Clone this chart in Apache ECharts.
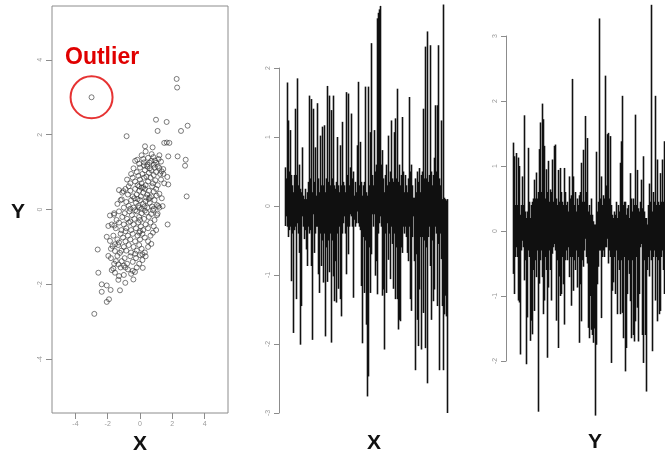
<!DOCTYPE html>
<html>
<head>
<meta charset="utf-8">
<script src="https://cdn.jsdelivr.net/npm/echarts@6/dist/echarts.min.js"></script>
<style>
html,body{margin:0;padding:0;background:#fff;}
#chart{width:665px;height:456px;}
</style>
</head>
<body>
<div id="chart"></div>
<script>
// ---- Scatter panel: (X, Y) pairs ----
const scatterPoints = [
[-3.0,3.0],
[2.27,3.49],[2.3,3.26],
[0.99,2.4],[1.65,2.34],[2.95,2.24],[1.09,2.1],[2.54,2.1],[-0.83,1.96],
[0.31,1.69],[0.78,1.66],[1.5,1.78],[1.66,1.79],[1.82,1.78],
[-0.17,1.33],[0.25,1.26],[0.72,1.48],[0.83,1.4],[0.93,1.31],
[1.75,1.42],[2.33,1.42],[2.83,1.33],[2.79,1.17],[2.89,0.35],
[1.2,1.11],[1.34,1.02],[1.44,1.08],[1.1,1.15],[1.69,0.87],[1.75,0.67],
[1.13,0.09],[1.4,0.09],[1.71,-0.4],[1.09,-0.11],[1.03,0.37],
[-2.83,-2.79],[-2.62,-1.07],[-1.96,-1.24],[-2.58,-1.69],[-2.37,-2.0],[-2.06,-2.03],[-2.37,-2.2],
[-1.82,-2.15],[-2.06,-2.47],[-1.92,-2.4],[-1.24,-2.16],[-1.65,-1.58],[-1.55,-1.69],[-1.34,-1.88],
[-0.91,-1.96],[-0.45,-1.64],[-0.41,-1.87],[-1.96,-0.44],[-1.59,-0.43],[-1.86,-0.16],[-1.61,-0.14],
[-1.03,0.49],[-1.13,0.27],[-2.06,-0.73],[-1.86,-0.84],[-1.55,-0.93],[-1.7,-0.98],[-1.55,-1.11],
[-1.4,-1.24],[-1.24,-1.16],[-1.49,-1.38],[-1.13,-1.38],[-1.34,-1.47],[0.17,-1.56],[-0.31,-1.67],
[0.1,1.45],[0.35,1.55],[0.5,1.38],[0.6,1.25],[-0.05,1.22],[0.45,1.2],[0.7,1.3],[1.0,1.25],[1.15,1.35],
[1.3,1.28],[0.2,1.35],[0.85,1.2],[-0.3,1.3],[1.2,1.45],
[-0.4,1.1],[-0.2,1.0],[0.0,1.12],[0.15,0.95],[0.3,1.05],[0.45,1.15],[0.55,0.98],[0.7,1.05],[0.85,0.92],
[1.0,1.0],[1.25,0.95],[-0.55,0.95],[0.25,1.18],[0.6,1.1],[-0.1,0.9],[0.9,1.12],[1.45,0.95],
[-0.8,0.8],[-0.6,0.7],[-0.45,0.85],[-0.3,0.75],[-0.15,0.65],[0.0,0.8],[0.1,0.7],[0.25,0.85],[0.35,0.65],
[0.5,0.75],[0.65,0.85],[0.8,0.7],[0.95,0.78],[1.1,0.65],[1.3,0.8],[-0.05,0.62],[0.4,0.88],[0.2,0.6],
[-0.7,0.62],[1.5,0.7],[0.75,0.62],
[-1.1,0.45],[-0.9,0.55],[-0.75,0.4],[-0.6,0.5],[-0.45,0.35],[-0.3,0.55],[-0.2,0.4],[-0.05,0.5],[0.05,0.35],
[0.2,0.45],[0.3,0.55],[0.45,0.4],[0.55,0.5],[0.7,0.35],[0.85,0.48],[1.0,0.55],[1.2,0.42],[-0.35,0.3],
[0.1,0.58],[0.6,0.32],[-1.3,0.52],[0.38,0.32],[1.35,0.3],
[-1.4,0.15],[-1.2,0.25],[-1.0,0.05],[-0.85,0.2],[-0.7,0.1],[-0.55,0.25],[-0.4,0.05],[-0.25,0.18],[-0.1,0.1],
[0.0,0.25],[0.1,0.02],[0.2,0.15],[0.35,0.22],[0.45,0.05],[0.6,0.18],[0.75,0.08],[0.9,0.25],[1.05,0.12],
[1.2,0.05],[-0.15,0.28],[0.28,0.08],[-0.6,0.02],[0.55,0.28],[0.85,0.02],[-0.05,0.05],
[-1.6,-0.1],[-1.3,-0.05],[-1.1,-0.2],[-0.95,-0.1],[-0.8,-0.25],[-0.65,-0.05],[-0.5,-0.15],[-0.35,-0.25],
[-0.2,-0.05],[-0.05,-0.2],[0.1,-0.1],[0.25,-0.25],[0.4,-0.08],[0.55,-0.2],[0.7,-0.12],[0.9,-0.28],
[1.05,-0.15],[-0.3,-0.02],[0.0,-0.28],[-1.45,-0.28],[0.3,-0.03],[0.8,-0.02],
[-1.75,-0.4],[-1.5,-0.5],[-1.3,-0.35],[-1.15,-0.55],[-1.0,-0.4],[-0.85,-0.5],[-0.7,-0.35],[-0.55,-0.55],
[-0.4,-0.4],[-0.25,-0.5],[-0.1,-0.35],[0.05,-0.45],[0.2,-0.55],[0.35,-0.4],[0.5,-0.5],[0.65,-0.35],
[0.85,-0.45],[-0.9,-0.58],[0.0,-0.58],[-0.6,-0.32],[1.0,-0.55],
[-1.65,-0.7],[-1.4,-0.8],[-1.2,-0.65],[-1.05,-0.75],[-0.9,-0.85],[-0.75,-0.7],[-0.6,-0.8],[-0.45,-0.65],
[-0.3,-0.85],[-0.15,-0.7],[0.0,-0.8],[0.15,-0.65],[0.3,-0.75],[0.5,-0.85],[0.65,-0.7],[-1.3,-0.88],
[-0.05,-0.62],[0.8,-0.62],
[-1.8,-1.05],[-1.35,-0.95],[-1.15,-1.1],[-1.0,-1.0],[-0.85,-1.1],[-0.7,-0.95],[-0.55,-1.15],[-0.4,-1.0],
[-0.2,-1.1],[-0.05,-0.95],[0.1,-1.05],[0.3,-1.15],[0.5,-1.0],[-0.3,-1.18],[0.15,-1.2],[0.7,-0.92],
[-1.8,-1.3],[-1.6,-1.45],[-0.95,-1.3],[-0.8,-1.45],[-0.6,-1.25],[-0.45,-1.4],[-0.25,-1.3],[-0.05,-1.45],
[0.15,-1.35],[0.35,-1.25],[-1.0,-1.5],[0.0,-1.22],
[-1.75,-1.62],[-1.2,-1.55],[-1.0,-1.75],[-0.75,-1.6],[-0.55,-1.72],[-0.2,-1.55],[-1.3,-1.78],[-0.9,-1.55]
];
const outlierPoint = [[-3.0, 3.0]];
const scatterTicks = [-4, -2, 0, 2, 4];

// ---- Middle panel: X values (upper and lower reach of each needle column) ----
const xUp = [
0.56,0.4,1.79,1.24,0.5,1.1,0.45,0.3,0.2,0.45,
1.41,0.45,1.85,0.3,0.6,0.25,0.2,0.85,0.15,0.1,
0.25,0.1,0.2,0.35,1.6,0.4,1.55,0.2,1.41,0.35,
0.85,0.15,1.49,0.4,0.2,1.02,0.3,1.15,0.3,1.17,
0.2,0.4,1.74,0.35,1.6,0.3,1.39,0.4,1.6,0.3,
0.25,0.35,1.0,0.3,0.2,0.88,0.3,1.22,0.35,0.3,
0.2,1.65,0.45,1.63,0.3,0.56,1.34,0.4,0.5,0.15,
0.35,0.2,0.88,1.8,0.3,0.93,0.35,0.15,0.3,0.35,
1.73,0.2,0.15,1.73,0.3,1.07,2.36,0.45,0.3,1.1,
0.5,0.6,2.72,2.8,2.85,2.9,0.6,0.81,0.4,0.2,
0.45,0.6,0.3,1.02,0.35,0.5,1.24,0.4,0.35,1.07,
1.27,0.4,1.7,0.35,0.6,0.3,0.45,1.29,0.5,0.2,
0.45,0.3,0.2,0.4,1.58,0.5,0.6,0.3,0.12,0.12,
0.4,0.2,0.5,0.35,0.55,0.2,0.45,0.5,1.41,0.4,
2.31,0.4,2.53,0.35,0.45,2.33,0.5,0.3,0.45,0.7,
1.46,0.5,1.46,2.33,0.4,0.3,1.24,0.1,2.92,0.12,0.1,0.08,0.1
];
const xDown = [
-0.29,-0.15,-0.3,-0.45,-0.35,-0.3,-1.09,-0.4,-1.84,-0.35,
-0.3,-1.35,-0.25,-0.4,-0.68,-2.01,-1.45,-0.15,-0.3,-0.48,
-0.35,-0.63,-0.87,-0.3,-0.4,-0.35,-0.87,-1.94,-0.12,-0.68,
-0.4,-0.3,-0.3,-0.99,-1.26,-0.4,-0.87,-0.5,-1.11,-0.4,
-1.89,-0.6,-1.1,-0.5,-0.96,-0.4,-1.98,-0.5,-1.02,-1.38,
-0.8,-1.4,-0.4,-1.2,-0.3,-1.35,-1.6,-0.4,-0.25,-0.15,
-0.4,-0.99,-0.3,-0.7,-0.3,-0.12,-0.15,-0.3,-1.33,-0.2,
-0.3,-0.25,-0.08,-0.25,-0.3,-0.35,-1.16,-1.99,-0.45,-1.26,
-0.5,-1.72,-2.76,-2.47,-0.6,-1.26,-0.7,-0.12,-0.3,-0.12,
-1.01,-0.8,-1.28,-0.4,-0.25,-0.15,-0.3,-1.3,-1.21,-2.08,
-0.4,-1.26,-0.25,-0.78,-0.4,-1.06,-0.3,-0.55,-1.2,-0.4,
-1.35,-0.6,-1.35,-1.79,-1.65,-1.67,-0.6,-0.68,-0.3,-0.4,
-0.3,-0.45,-0.68,-0.8,-0.3,-1.35,-1.52,-0.45,-0.15,-0.8,
-2.38,-0.7,-1.65,-2.03,-1.21,-0.45,-2.08,-0.45,-1.55,-0.5,
-2.06,-0.6,-2.57,-0.45,-0.3,-0.87,-1.65,-0.5,-1.38,-1.21,
-0.3,-0.4,-1.45,-0.55,-2.38,-0.4,-0.77,-1.45,-2.38,-1.57,-1.3,-1.6,-3.0
];

// ---- Right panel: Y values (visible part, cut at the right edge) ----
const yUp = [
1.36,1.15,0.4,1.2,0.4,1.13,1.0,0.25,0.4,0.84,
0.4,1.78,0.3,0.2,0.3,1.28,0.45,0.2,0.4,0.45,
0.5,0.79,0.5,0.9,0.5,0.6,1.26,1.67,0.6,1.96,
1.72,1.31,0.5,0.95,0.6,1.08,0.45,0.64,0.6,1.1,
0.45,1.31,1.33,0.5,0.4,0.94,0.45,0.97,0.6,0.45,
0.4,0.97,0.6,0.4,0.45,0.3,0.84,0.5,0.55,2.34,
0.84,0.4,0.6,0.3,0.5,0.4,0.55,0.6,1.05,0.45,
1.25,0.45,1.77,0.6,1.43,0.3,0.4,0.25,0.5,0.25,
0.15,0.1,0.1,1.22,0.3,0.45,3.27,0.5,0.84,0.4,
0.55,0.5,2.39,0.7,1.49,1.51,0.5,1.46,0.4,0.25,
0.2,0.3,0.25,0.45,0.2,0.4,0.3,1.05,1.38,2.08,
0.4,0.45,0.45,0.25,0.35,0.4,0.2,0.89,0.5,0.3,
0.5,0.4,1.79,0.4,0.94,0.35,0.3,0.45,0.79,0.35,
1.15,0.3,0.2,0.2,0.1,0.4,0.73,0.45,3.48,0.3,
0.6,0.45,2.08,0.4,1.1,0.45,0.4,0.89,0.45,1.1,
0.45,1.38
];
const yDown = [
-0.66,-0.97,-0.4,-0.25,-0.4,-1.07,-1.1,-1.9,-0.3,-0.15,
-0.25,-0.76,-0.45,-2.05,-1.33,-0.3,-0.4,-1.69,-1.38,-1.59,
-0.6,-1.23,-0.45,-0.71,-0.3,-2.78,-0.81,-0.45,-0.3,-0.71,
-1.28,-1.07,-0.4,-0.6,-1.95,-0.87,-0.3,-0.6,-1.07,-0.35,
-0.25,-0.2,-0.3,-1.38,-0.45,-1.8,-0.7,-1.0,-0.97,-0.4,
-0.82,-1.44,-0.45,-0.3,-0.45,-0.25,-0.71,-0.4,-1.15,-0.4,
-0.92,-0.45,-0.6,-0.3,-0.87,-0.4,-1.72,-0.82,-1.39,-0.45,
-0.55,-0.3,-0.12,-0.4,-0.5,-1.49,-1.65,-1.0,-1.52,-1.6,
-1.72,-1.5,-2.84,-1.75,-0.82,-0.55,-0.3,-0.3,-1.34,-0.4,
-0.3,-0.4,-0.25,-0.25,-0.12,-0.5,-0.3,-0.4,-2.03,-0.92,
-0.79,-0.4,-0.97,-0.3,-1.28,-0.45,-0.6,-1.28,-0.45,-1.26,
-1.65,-0.4,-2.16,-1.8,-0.97,-0.45,-0.66,-1.08,-1.65,-0.45,
-1.6,-1.7,-1.39,-0.4,-1.18,-1.7,-0.97,-0.25,-0.2,-1.6,
-2.03,-0.45,-1.6,-2.47,-0.6,-0.4,-0.7,-0.3,-0.45,-1.85,
-0.4,-0.3,-1.07,-0.4,-1.39,-0.45,-1.28,-1.23,-0.4,-0.3,
-0.6,-0.97
];
const xTicks = [-3, -2, -1, 0, 1, 2];
const yTicks = [-2, -1, 0, 1, 2, 3];

const xIndex = xUp.map((_, i) => i + 1);
const yIndex = yUp.map((_, i) => i + 1);

const gray = '#8c8c8c';
const labelStyle = { fontSize: 7, color: '#9a9a9a', fontFamily: 'Liberation Sans, Arial, sans-serif' };
const bigText = (text, x, y) => ({
  type: 'text', x: x, y: y,
  style: { text: text, fill: '#111', font: 'bold 21px "Liberation Sans", Arial, sans-serif',
           textAlign: 'center', textVerticalAlign: 'middle' }
});
const needle = (data, axis) => ({
  type: 'bar', xAxisIndex: axis, yAxisIndex: axis, data: data, barWidth: 1.6, barGap: '-100%',
  clip: false, itemStyle: { color: '#111' }
});

const chart = echarts.init(document.getElementById('chart'), null, { renderer: 'canvas' });
chart.setOption({
  animation: false,
  backgroundColor: '#fff',
  grid: [
    { left: 52, top: 6, width: 176, height: 407, show: true, borderColor: gray, borderWidth: 1, backgroundColor: 'transparent' },
    { left: 285, top: 68, width: 163, height: 345 },
    { left: 513, top: 36, width: 152, height: 325 }
  ],
  xAxis: [
    { gridIndex: 0, type: 'value', min: -5.45, max: 5.45,
      axisLine: { show: false, onZero: false }, splitLine: { show: false },
      axisTick: { show: true, length: 6, customValues: scatterTicks, lineStyle: { color: gray } },
      axisLabel: Object.assign({ customValues: scatterTicks, margin: 8 }, labelStyle) },
    { gridIndex: 1, type: 'category', data: xIndex, show: false },
    { gridIndex: 2, type: 'category', data: yIndex, show: false }
  ],
  yAxis: [
    { gridIndex: 0, type: 'value', min: -5.44, max: 5.44,
      axisLine: { show: false, onZero: false }, splitLine: { show: false },
      axisTick: { show: true, length: 6, customValues: scatterTicks, lineStyle: { color: gray } },
      axisLabel: Object.assign({ customValues: scatterTicks, rotate: 90, margin: 8 }, labelStyle) },
    { gridIndex: 1, type: 'value', min: xTicks[0], max: xTicks[xTicks.length - 1], interval: 1, offset: 6,
      axisLine: { show: true, onZero: false, lineStyle: { color: gray } }, splitLine: { show: false },
      axisTick: { show: true, length: 5, lineStyle: { color: gray } },
      axisLabel: Object.assign({ rotate: 90, margin: 7 }, labelStyle) },
    { gridIndex: 2, type: 'value', min: yTicks[0], max: yTicks[yTicks.length - 1], interval: 1, offset: 7,
      axisLine: { show: true, onZero: false, lineStyle: { color: gray } }, splitLine: { show: false },
      axisTick: { show: true, length: 5, lineStyle: { color: gray } },
      axisLabel: Object.assign({ rotate: 90, margin: 7 }, labelStyle) }
  ],
  series: [
    { type: 'scatter', xAxisIndex: 0, yAxisIndex: 0, data: outlierPoint, symbol: 'circle', symbolSize: 42,
      itemStyle: { color: 'rgba(0,0,0,0)', borderColor: '#e00000', borderWidth: 2 }, silent: true, z: 1 },
    { type: 'scatter', xAxisIndex: 0, yAxisIndex: 0, data: scatterPoints, symbol: 'circle', symbolSize: 5,
      itemStyle: { color: 'rgba(255,255,255,0)', borderColor: '#333', borderWidth: 0.8 }, z: 2 },
    needle(xUp, 1), needle(xDown, 1),
    needle(yUp, 2), needle(yDown, 2)
  ],
  graphic: [
    { type: 'text', x: 65, y: 58,
      style: { text: 'Outlier', fill: '#e00000', font: 'bold 23px "Liberation Sans", Arial, sans-serif',
               textAlign: 'left', textVerticalAlign: 'middle' } },
    bigText('Y', 18, 212),
    bigText('X', 140, 444),
    bigText('X', 374, 443),
    bigText('Y', 595, 442)
  ]
});
</script>
</body>
</html>
